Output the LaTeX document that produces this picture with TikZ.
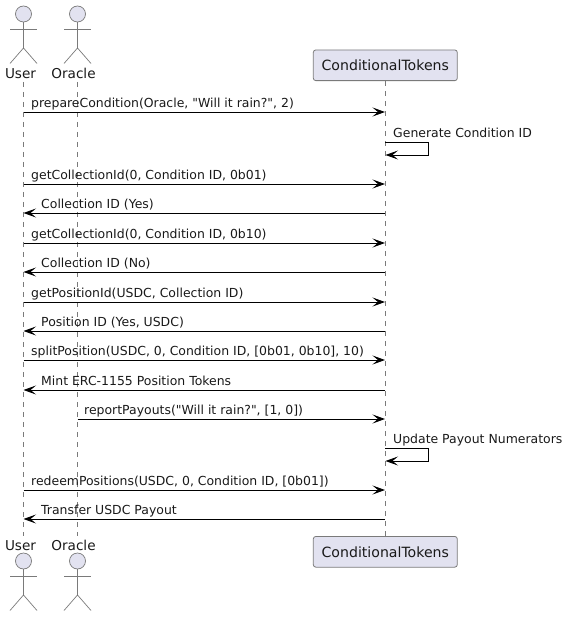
\documentclass[tikz,border=0pt]{standalone}
\usepackage{fontspec}
\setmainfont{DejaVu Sans}[Ligatures=TeXOff]
\usepackage{xcolor}
\usetikzlibrary{arrows.meta}
\definecolor{actorfill}{HTML}{E2E2F0}
\definecolor{actorline}{HTML}{7A7A7A}
\tikzset{
    msg/.style={draw=black, line width=0.9pt, -{Stealth[length=12.5pt,width=9pt,inset=5.5pt]}},
    msgtext/.style={anchor=base west, inner sep=0pt, font=\fontsize{12.45}{14}\selectfont, text=black!90},
    lifeline/.style={draw=actorline, line width=0.7pt, dash pattern=on 5pt off 5pt},
    actorname/.style={anchor=base, inner sep=0pt, font=\fontsize{13.6}{16}\selectfont, text=black!90},
    partbox/.style={draw=actorline, fill=actorfill, line width=0.8pt, rounded corners=2.5pt, minimum width=144pt, minimum height=30.7pt, inner sep=0pt, font=\fontsize{14.1}{16}\selectfont, text=black!90},
    actorhead/.style={circle, draw=actorline, fill=actorfill, line width=0.7pt, minimum size=16pt, inner sep=0pt},
    actorlimb/.style={draw=actorline, line width=0.7pt}
}
% one stick figure, head centre at (#1,#2)
\newcommand{\stickman}[3]{
    \node[actorhead] (#3head) at (#1,#2) {};
    \coordinate (#3hip) at (#1,#2+34);
    \coordinate (#3armL) at (#1-13.5,#2+15);
    \coordinate (#3armR) at (#1+13.5,#2+15);
    \coordinate (#3legL) at (#1-13.5,#2+49.5);
    \coordinate (#3legR) at (#1+13.5,#2+49.5);
    \draw[actorlimb] (#3head) -- (#3hip);
    \draw[actorlimb] (#3armL) -- (#3armR);
    \draw[actorlimb] (#3legL) -- (#3hip) -- (#3legR);
}
\begin{document}
\begin{tikzpicture}[x=1pt,y=-1pt]
    \useasboundingbox (0,0) rectangle (566,617);

    % lifelines
    \coordinate (Utop) at (23.5,82);
    \coordinate (Ubot) at (23.5,536);
    \coordinate (Otop) at (77.5,82);
    \coordinate (Obot) at (77.5,536);
    \node[partbox] (Ctop) at (385.3,65.3) {ConditionalTokens};
    \node[partbox] (Cbot) at (385.3,551.8) {ConditionalTokens};
    \draw[lifeline] (Utop) -- (Ubot);
    \draw[lifeline] (Otop) -- (Obot);
    \draw[lifeline] (Ctop) -- (Cbot);

    % actors
    \stickman{23.5}{14}{Ua}
    \stickman{77.5}{14}{Oa}
    \stickman{23.5}{561}{Ub}
    \stickman{77.5}{561}{Ob}
    \node[actorname] (Ulabel) at (20.5,79) {User};
    \node[actorname] (Olabel) at (73.5,79) {Oracle};
    \node[actorname] (Ulabelb) at (20.5,550) {User};
    \node[actorname] (Olabelb) at (73.5,550) {Oracle};

    % calls to the contract
    \foreach \m/\from/\fx/\tx/\y/\txt in {
        a/U/23.5/31/112/{prepareCondition(Oracle, "Will it rain?", 2)},
        c/U/23.5/31/184/{getCollectionId(0, Condition ID, 0b01)},
        e/U/23.5/31/243/{getCollectionId(0, Condition ID, 0b10)},
        g/U/23.5/31/302/{getPositionId(USDC, Collection ID)},
        i/U/23.5/31/360/{splitPosition(USDC, 0, Condition ID, [0b01, 0b10], 10)},
        k/O/77.5/84/419/{reportPayouts("Will it rain?", [1, 0])},
        m/U/23.5/31/490/{redeemPositions(USDC, 0, Condition ID, [0b01])}
    }{
        \coordinate (\m s) at (\fx,\y);
        \coordinate (\m e) at (385,\y);
        \draw[msg] (\m s) -- (\m e);
        \node[msgtext] (\m t) at (\tx,\y-4.6) {\txt};
    }

    % replies
    \foreach \m/\y/\txt in {
        d/213/{Collection ID (Yes)},
        f/272/{Collection ID (No)},
        h/331/{Position ID (Yes, USDC)},
        j/390/{Mint ERC-1155 Position Tokens},
        n/519/{Transfer USDC Payout}
    }{
        \coordinate (\m s) at (385,\y);
        \coordinate (\m e) at (23.5,\y);
        \draw[msg] (\m s) -- (\m e);
        \node[msgtext] (\m t) at (41,\y-4.6) {\txt};
    }

    % self calls
    \foreach \m/\y/\txt in {
        b/142/{Generate Condition ID},
        l/448/{Update Payout Numerators}
    }{
        \coordinate (\m s) at (385,\y);
        \coordinate (\m r) at (428,\y);
        \coordinate (\m q) at (428,\y+13);
        \coordinate (\m e) at (385.5,\y+13);
        \draw[msg] (\m s) -- (\m r) -- (\m q) -- (\m e);
        \node[msgtext] (\m t) at (393,\y-4.6) {\txt};
    }
\end{tikzpicture}
\end{document}
